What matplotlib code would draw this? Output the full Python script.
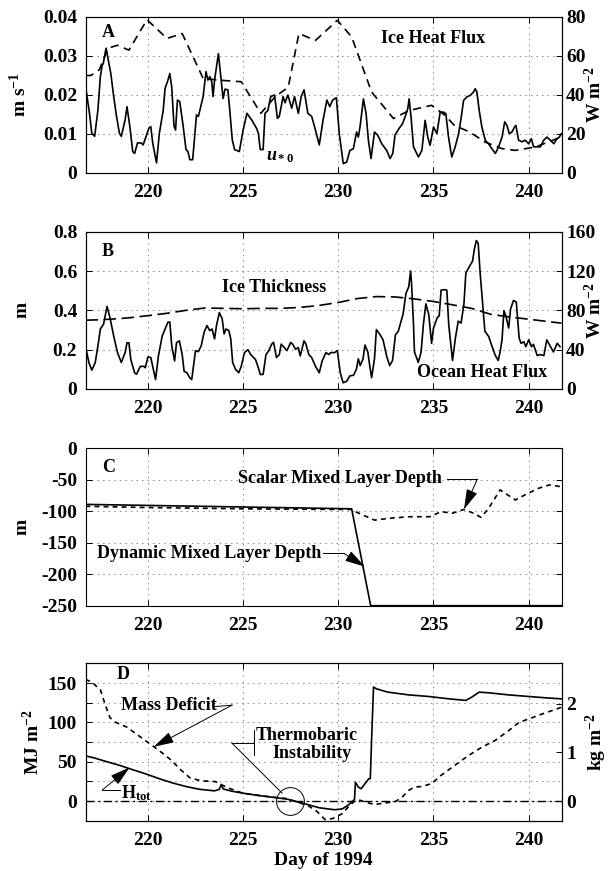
import matplotlib
matplotlib.use("Agg")
import matplotlib.pyplot as plt
from matplotlib.ticker import FuncFormatter, MultipleLocator

# ---- Panel A: friction velocity (m/s) and ice heat flux (W/m2)
ustar_day = [216.75, 216.93, 217.05, 217.2, 217.37, 217.5, 217.6, 217.65, 217.8, 218.05,
             218.2, 218.35, 218.5, 218.6, 218.8, 218.9, 219.05, 219.2, 219.3, 219.45,
             219.65, 219.75, 220.05, 220.15, 220.25, 220.45, 220.6, 220.8, 220.9, 221.05,
             221.15, 221.25, 221.37, 221.45, 221.55, 221.67, 221.85, 222.0, 222.1, 222.2,
             222.35, 222.55, 222.65, 222.9, 223.05, 223.15, 223.25, 223.35, 223.42, 223.5,
             223.7, 223.85, 223.95, 224.05, 224.2, 224.3, 224.43, 224.55, 224.8, 225.0,
             225.2, 225.45, 225.7, 225.8, 225.9, 226.05, 226.15, 226.3, 226.45, 226.65,
             226.8, 226.9, 227.1, 227.2, 227.35, 227.55, 227.7, 227.9, 228.05, 228.2,
             228.4, 228.6, 228.75, 229.0, 229.2, 229.4, 229.55, 229.7, 229.9, 230.05,
             230.26, 230.44, 230.61, 230.79, 230.96, 231.05, 231.14, 231.32, 231.46, 231.58,
             231.72, 231.9, 232.07, 232.28, 232.54, 232.72, 232.86, 232.98, 233.19, 233.37,
             233.51, 233.65, 233.72, 233.82, 233.95, 234.21, 234.39, 234.56, 234.7, 234.82,
             235.0, 235.18, 235.35, 235.53, 235.65, 235.79, 235.96, 236.14, 236.32, 236.46,
             236.58, 236.75, 236.93, 237.11, 237.19, 237.28, 237.4, 237.54, 237.72, 237.89,
             238.07, 238.25, 238.42, 238.6, 238.74, 238.86, 238.98, 239.12, 239.26, 239.33,
             239.47, 239.65, 239.82, 240.0, 240.14, 240.26, 240.44, 240.61, 240.79, 240.96,
             241.14, 241.32, 241.49, 241.61, 241.72]
ustar = [0.0213, 0.0153, 0.0102, 0.0094, 0.016, 0.0247, 0.0277, 0.028, 0.032, 0.0255,
         0.0196, 0.0145, 0.0102, 0.0094, 0.0136, 0.017, 0.0119, 0.0055, 0.005, 0.0077,
         0.0077, 0.0072, 0.0115, 0.0119, 0.0077, 0.0026, 0.0102, 0.016, 0.0217, 0.0238,
         0.0255, 0.022, 0.012, 0.011, 0.0187, 0.0183, 0.012, 0.006, 0.0055, 0.0034,
         0.0034, 0.0149, 0.0145, 0.0196, 0.026, 0.0238, 0.0247, 0.0234, 0.0196, 0.0238,
         0.0306, 0.0238, 0.0191, 0.0215, 0.0213, 0.016, 0.0085, 0.006, 0.0055, 0.011,
         0.0153, 0.0136, 0.0115, 0.0102, 0.006, 0.006, 0.0153, 0.016, 0.0196, 0.02,
         0.014, 0.0145, 0.0196, 0.018, 0.02, 0.0166, 0.0196, 0.0153, 0.0196, 0.0213,
         0.0153, 0.0145, 0.0119, 0.0072, 0.0136, 0.0187, 0.017, 0.0187, 0.0193, 0.0101,
         0.0024, 0.0028, 0.0058, 0.0062, 0.0105, 0.0092, 0.0118, 0.019, 0.0152, 0.0084,
         0.0037, 0.0105, 0.0097, 0.0075, 0.0058, 0.0037, 0.005, 0.0097, 0.0114, 0.0126,
         0.0144, 0.0165, 0.019, 0.0144, 0.0067, 0.0041, 0.0058, 0.0135, 0.0092, 0.0071,
         0.0118, 0.0101, 0.0156, 0.0156, 0.0152, 0.0092, 0.0041, 0.0067, 0.0101, 0.0144,
         0.0186, 0.0195, 0.0199, 0.0208, 0.0216, 0.0208, 0.0161, 0.0118, 0.0084, 0.0075,
         0.0062, 0.005, 0.0067, 0.0092, 0.0131, 0.0122, 0.0101, 0.0105, 0.0118, 0.0122,
         0.0084, 0.008, 0.0084, 0.0075, 0.0088, 0.0067, 0.0067, 0.0067, 0.0084, 0.0092,
         0.0084, 0.0075, 0.0088, 0.0092, 0.0101]

ice_flux_day = [216.72, 217.0, 217.45, 217.9, 218.4, 219.0, 219.95, 221.0, 221.8, 222.9,
                223.6, 224.9, 225.93, 226.67, 227.37, 227.93, 228.8, 229.95, 230.7, 231.75,
                232.9, 233.7, 234.9, 235.6, 236.1, 236.9, 237.7, 238.6, 239.3, 240.35, 241.72]
ice_flux = [50, 50, 53, 64, 65.5, 63, 78.6, 69, 71.5, 48.5,
            47.7, 46.8, 30.6, 39, 44, 71.5, 68, 78.3, 69.8, 41.5,
            27.9, 32, 34.7, 29.6, 24.4, 21, 15.9, 12.5, 11.6, 13.3, 18.5]

# ---- Panel B: ice thickness (m) and ocean heat flux (W/m2)
thick_day = [216.72, 217.5, 218.5, 219.0, 220.0, 221.0, 222.0, 223.0, 224.0, 225.0,
             226.0, 227.0, 228.0, 229.0, 230.0, 231.0, 232.0, 233.0, 234.0, 235.0,
             236.0, 237.0, 238.0, 239.0, 240.0, 241.0, 241.72]
thick = [0.35, 0.352, 0.358, 0.362, 0.373, 0.385, 0.40, 0.412, 0.41, 0.408,
         0.41, 0.41, 0.415, 0.425, 0.44, 0.46, 0.47, 0.468, 0.458, 0.445,
         0.428, 0.41, 0.38, 0.366, 0.355, 0.343, 0.335]

ocean_day = [216.75, 216.9, 217.05, 217.23, 217.4, 217.5, 217.67, 217.85, 218.0, 218.2,
             218.4, 218.6, 218.8, 218.9, 219.0, 219.1, 219.3, 219.4, 219.6, 219.8,
             219.86, 220.0, 220.15, 220.4, 220.55, 220.75, 220.9, 221.05, 221.15, 221.25,
             221.4, 221.5, 221.65, 221.8, 221.9, 222.05, 222.2, 222.3, 222.5, 222.65,
             222.8, 222.95, 223.1, 223.25, 223.37, 223.5, 223.6, 223.75, 223.9, 224.0,
             224.1, 224.25, 224.35, 224.45, 224.6, 224.77, 224.9, 225.07, 225.25, 225.4,
             225.65, 225.8, 225.9, 226.05, 226.2, 226.35, 226.5, 226.6, 226.75, 226.9,
             227.0, 227.17, 227.3, 227.5, 227.6, 227.75, 227.9, 228.0, 228.2, 228.3,
             228.45, 228.6, 228.8, 229.0, 229.15, 229.35, 229.5, 229.6, 229.8, 229.95,
             230.1, 230.25, 230.45, 230.6, 230.8, 230.95, 231.05, 231.15, 231.3, 231.4,
             231.55, 231.65, 231.75, 231.9, 232.0, 232.2, 232.35, 232.55, 232.7, 232.85,
             233.0, 233.15, 233.3, 233.4, 233.55, 233.7, 233.8, 233.85, 233.95, 234.0,
             234.2, 234.35, 234.47, 234.6, 234.75, 234.9, 235.0, 235.2, 235.3, 235.4,
             235.6, 235.7, 235.8, 236.0, 236.15, 236.3, 236.45, 236.6, 236.7, 236.9,
             237.05, 237.15, 237.25, 237.35, 237.45, 237.6, 237.7, 237.9, 238.05, 238.25,
             238.4, 238.5, 238.6, 238.7, 238.8, 238.95, 239.05, 239.2, 239.35, 239.5,
             239.6, 239.75, 239.85, 240.0, 240.15, 240.25, 240.45, 240.6, 240.8, 240.95,
             241.15, 241.3, 241.5, 241.65]
ocean_flux = [40.5, 26.8, 19.2, 26.8, 47.4, 61, 66, 84, 73, 54,
              37, 27, 37, 47, 47, 30, 16.5, 15, 23, 23,
              21.6, 32.6, 32, 9.6, 33.6, 54, 61, 68, 68, 44,
              28.5, 47, 49, 35, 18, 16.5, 11.3, 9.6, 39, 38,
              44, 57.7, 64.5, 59.4, 61, 51, 64.5, 77.6, 71.4, 56,
              61, 59.4, 51, 27, 20, 16.5, 23, 37, 40, 35,
              30, 21.6, 14.8, 14.8, 35, 39, 45.6, 47.4, 32, 35,
              45.6, 42, 39, 47.4, 45.6, 40.5, 42, 33.6, 49, 45.6,
              35, 32, 23, 16.5, 28.5, 37, 35, 37, 37, 39,
              16.8, 6.3, 8, 13.3, 14, 20, 30.7, 23.8, 30.7, 44.7,
              37.7, 23.8, 11.5, 30.7, 60.4, 55, 50, 32.5, 23.8, 29,
              55, 58.7, 69, 76, 97, 104, 120, 106, 65.7, 37.7,
              27, 37.7, 65.7, 86.6, 76, 46.5, 62, 72.7, 74.4, 100.6,
              101, 100.6, 65.7, 29, 51.7, 69, 67, 86.6, 118, 125,
              130, 142.5, 151, 148, 118, 83, 58.7, 53.4, 44.7, 34,
              29, 37.7, 50, 79.7, 74.4, 62, 81.4, 90, 88.4, 51.7,
              46.5, 48, 43, 50, 43, 45.4, 34, 35, 34, 50,
              43, 37.7, 46.5, 43]

# ---- Panel C: mixed layer depths (m)
dyn_day = [216.72, 230.7, 231.7, 241.75]
dyn_depth = [-89, -96, -250, -250]

scalar_day = [216.72, 220.0, 225.0, 230.0, 230.7, 230.9, 231.9, 232.7, 233.75, 234.8,
              235.4, 236.0, 236.6, 237.1, 237.5, 237.9, 238.5, 238.9, 239.3, 239.8,
              240.5, 241.1, 241.72]
scalar_depth = [-92, -94, -96, -97, -97, -100.6, -114, -111, -108.6, -108.6,
                -100.6, -103, -97, -103, -109.6, -95, -66, -74, -82, -74,
                -63.6, -58, -61]

# ---- Panel D: heat content (MJ/m2) and mass deficit (kg/m2)
htot_day = [216.72, 217.2, 217.85, 218.5, 219.25, 219.95, 220.65, 221.3, 222.0, 222.7,
            223.5, 223.75, 223.85, 223.95, 224.4, 225.0, 225.7, 226.5, 227.3, 228.1,
            229.0, 229.8, 230.2, 230.5, 230.75, 230.85, 230.9, 231.05, 231.2, 231.4,
            231.6, 231.68, 231.75, 231.85, 232.0, 232.6, 233.7, 234.75, 235.8, 236.7,
            237.0, 237.4, 237.9, 238.95, 240.0, 241.05, 241.72]
htot = [57.5, 54.7, 50, 45.5, 39.5, 34, 28, 23, 18.5, 15,
        13, 15, 21, 15.5, 12.6, 10, 7.5, 5, 2.5, -2.5,
        -8.5, -11, -10, -5.5, 0, 2, 24, 17.8, 15.7, 22,
        28.4, 28.4, 79, 145, 142.8, 138.5, 135, 133, 130, 128,
        132, 138.5, 137.7, 135, 133, 131, 130]

deficit_day = [216.72, 217.1, 217.5, 217.75, 218.0, 218.3, 218.9, 219.6, 220.2, 220.65,
               221.2, 221.7, 222.2, 222.75, 223.55, 223.8, 224.15, 224.85, 225.2, 225.9,
               226.6, 227.3, 227.85, 228.4, 228.9, 229.3, 229.7, 230.2, 230.5, 230.8,
               231.05, 231.4, 231.9, 232.45, 233.0, 233.35, 233.7, 234.0, 234.4, 234.9,
               235.4, 236.1, 236.85, 237.55, 238.25, 238.95, 239.5, 240.0, 240.7, 241.72]
deficit = [2.51, 2.43, 2.29, 1.99, 1.72, 1.62, 1.52, 1.32, 1.15, 1.02,
           0.85, 0.65, 0.48, 0.42, 0.40, 0.35, 0.28, 0.18, 0.15, 0.11,
           0.08, 0.05, -0.02, -0.09, -0.22, -0.38, -0.36, -0.26, -0.13, -0.02,
           0.03, -0.02, -0.07, -0.04, -0.01, 0.08, 0.22, 0.29, 0.30, 0.36,
           0.53, 0.73, 0.94, 1.11, 1.25, 1.45, 1.62, 1.69, 1.79, 1.93]

day_ticks = [220, 225, 230, 235, 240]
MJ_PER_KG = 61.8

plt.rcParams['font.family'] = 'Liberation Serif'
plt.rcParams['font.weight'] = 'bold'
plt.rcParams['font.size'] = 13
plt.rcParams['axes.labelweight'] = 'bold'
plt.rcParams['axes.labelsize'] = 14
plt.rcParams['xtick.labelsize'] = 14
plt.rcParams['ytick.labelsize'] = 14
plt.rcParams['mathtext.fontset'] = 'custom'
plt.rcParams['mathtext.rm'] = 'Liberation Serif:bold'
plt.rcParams['mathtext.bf'] = 'Liberation Serif:bold'
plt.rcParams['mathtext.it'] = 'Liberation Serif:italic:bold'
plt.rcParams['lines.scale_dashes'] = False
plt.rcParams['axes.linewidth'] = 0.8


def plain_num(v, pos):
    """ Tick text without trailing zeros. """
    if abs(v) < 1e-9:
        return '0'
    return f'{v:g}'


def setup(ax, ylim, ystep):
    """ Common MATLAB-like frame, ticks and dotted grid. """
    ax.set_xlim(216.72, 241.75)
    ax.set_ylim(*ylim)
    ax.set_xticks(day_ticks)
    ax.yaxis.set_major_locator(MultipleLocator(ystep))
    ax.yaxis.set_major_formatter(FuncFormatter(plain_num))
    ax.grid(True, linestyle=(0, (1, 3)), color='0.45', linewidth=0.6)
    ax.tick_params(direction='in', length=4, width=0.7, top=True)
    ax.tick_params(axis='x', pad=8)
    ax.tick_params(axis='y', pad=6)


def right_axis(ax, ylim, ticks):
    """ Second y axis on the right. """
    ax2 = ax.twinx()
    ax2.set_ylim(*ylim)
    ax2.set_yticks(ticks)
    ax2.yaxis.set_major_formatter(FuncFormatter(plain_num))
    ax2.tick_params(direction='in', length=4, width=0.7, pad=3)
    return ax2


def arrow(ax, start, tip):
    ax.annotate('', xy=tip, xytext=start,
                arrowprops=dict(arrowstyle='-|>,head_length=0.9,head_width=0.25',
                                color='k', lw=0.7, shrinkA=0, shrinkB=0,
                                mutation_scale=14))


fig = plt.figure(figsize=(6.09, 8.71), dpi=100)
left, width, height = 0.1404, 0.7824, 0.1806
lab_x = -0.116
rlab_x = 1.046

# Panel A
ax_a = fig.add_axes([left, 0.8014, width, 0.1791])
setup(ax_a, (0, 0.04), 0.01)
ax_a.plot(ustar_day, ustar, color='k', lw=1.2)
ax_a.set_ylabel('m s$^{-1}$')
ax_a.yaxis.set_label_coords(lab_x, 0.5)
ax_a2 = right_axis(ax_a, (0, 80), [0, 20, 40, 60, 80])
ax_a2.plot(ice_flux_day, ice_flux, color='k', lw=1.2, dashes=(6, 4))
ax_a2.set_ylabel('W m$^{-2}$')
ax_a2.yaxis.set_label_coords(rlab_x, 0.5)
ax_a.text(0.034, 0.9, 'A', transform=ax_a.transAxes, ha='left', va='center')
ax_a.text(234.97, 0.0345, 'Ice Heat Flux', ha='center', va='center')
ax_a.text(226.95, 0.0043, '$u_{\\rm *0}$', ha='center', va='center')

# Panel B
ax_b = fig.add_axes([left, 0.5534, width, height])
setup(ax_b, (0, 0.8), 0.2)
ax_b.plot(thick_day, thick, color='k', lw=1.2, dashes=(9, 4))
ax_b.set_ylabel('m')
ax_b.yaxis.set_label_coords(lab_x, 0.5)
ax_b2 = right_axis(ax_b, (0, 160), [0, 40, 80, 120, 160])
ax_b2.plot(ocean_day, ocean_flux, color='k', lw=1.2)
ax_b2.set_ylabel('W m$^{-2}$')
ax_b2.yaxis.set_label_coords(rlab_x, 0.5)
ax_b.text(0.034, 0.875, 'B', transform=ax_b.transAxes, ha='left', va='center')
ax_b.text(226.65, 0.515, 'Ice Thickness', ha='center', va='center')
ax_b.text(237.55, 0.084, 'Ocean Heat Flux', ha='center', va='center')

# Panel C
ax_c = fig.add_axes([left, 0.3046, width, height])
setup(ax_c, (-250, 0), 50)
ax_c.tick_params(right=True)
ax_c.plot(dyn_day, dyn_depth, color='k', lw=1.2)
ax_c.plot(scalar_day, scalar_depth, color='k', lw=1.2, dashes=(3.5, 3))
ax_c.set_ylabel('m')
ax_c.yaxis.set_label_coords(lab_x, 0.5)
ax_c.text(0.034, 0.88, 'C', transform=ax_c.transAxes, ha='left', va='center')
ax_c.text(235.45, -48, 'Scalar Mixed Layer Depth', ha='right', va='center')
ax_c.plot([235.7, 237.3], [-49, -49], color='k', lw=0.7)
arrow(ax_c, (237.3, -49), (236.6, -97))
ax_c.text(229.1, -167, 'Dynamic Mixed Layer Depth', ha='right', va='center')
ax_c.plot([229.2, 230.3], [-167, -167], color='k', lw=0.7)
arrow(ax_c, (230.3, -167), (231.4, -188))

# Panel D
ax_d = fig.add_axes([left, 0.0577, width, height])
setup(ax_d, (-25, 175), 25)
ax_d.yaxis.set_major_formatter(FuncFormatter(
    lambda v, p: plain_num(v, p) if round(v) % 50 == 0 else ''))
ax_d.plot(htot_day, htot, color='k', lw=1.2)
ax_d.axhline(0, color='k', lw=1.0, dashes=(6, 2.5, 1.5, 2.5))
ax_d.set_ylabel('MJ m$^{-2}$')
ax_d.yaxis.set_label_coords(-0.089, 0.5)
ax_d.set_xlabel('Day of 1994', labelpad=2)
ax_d2 = right_axis(ax_d, (-25 / MJ_PER_KG, 175 / MJ_PER_KG), [0, 1, 2])
ax_d2.plot(deficit_day, deficit, color='k', lw=1.2, dashes=(3.5, 3))
ax_d2.set_ylabel('kg m$^{-2}$')
ax_d2.yaxis.set_label_coords(rlab_x, 0.5)
ax_d.text(0.065, 0.93, 'D', transform=ax_d.transAxes, ha='left', va='center')

ax_d.text(218.6, 121, 'Mass Deficit', ha='left', va='center')
ax_d.plot([223.45, 224.42], [120, 122], color='k', lw=0.7)
arrow(ax_d, (224.42, 122), (220.3, 69))

ax_d.text(218.6, 10, 'H$_{\\rm tot}$', ha='left', va='center')
ax_d.plot([217.6, 218.55], [14, 14], color='k', lw=0.7)
arrow(ax_d, (217.6, 14), (219.05, 43))

ax_d.text(228.35, 84, 'Thermobaric', ha='center', va='center')
ax_d.text(228.6, 61, 'Instability', ha='center', va='center')
ax_d.plot([225.55, 225.55], [58, 90], color='k', lw=0.7)
ax_d.plot([224.4, 225.55], [74, 74], color='k', lw=0.7)
ax_d.plot([224.4, 227.05], [74, 10], color='k', lw=0.7)
ax_d.plot([227.45], [0], marker='o', ms=20, mfc='none', mec='k', mew=0.7)

fig.savefig('out.png', dpi=100)
